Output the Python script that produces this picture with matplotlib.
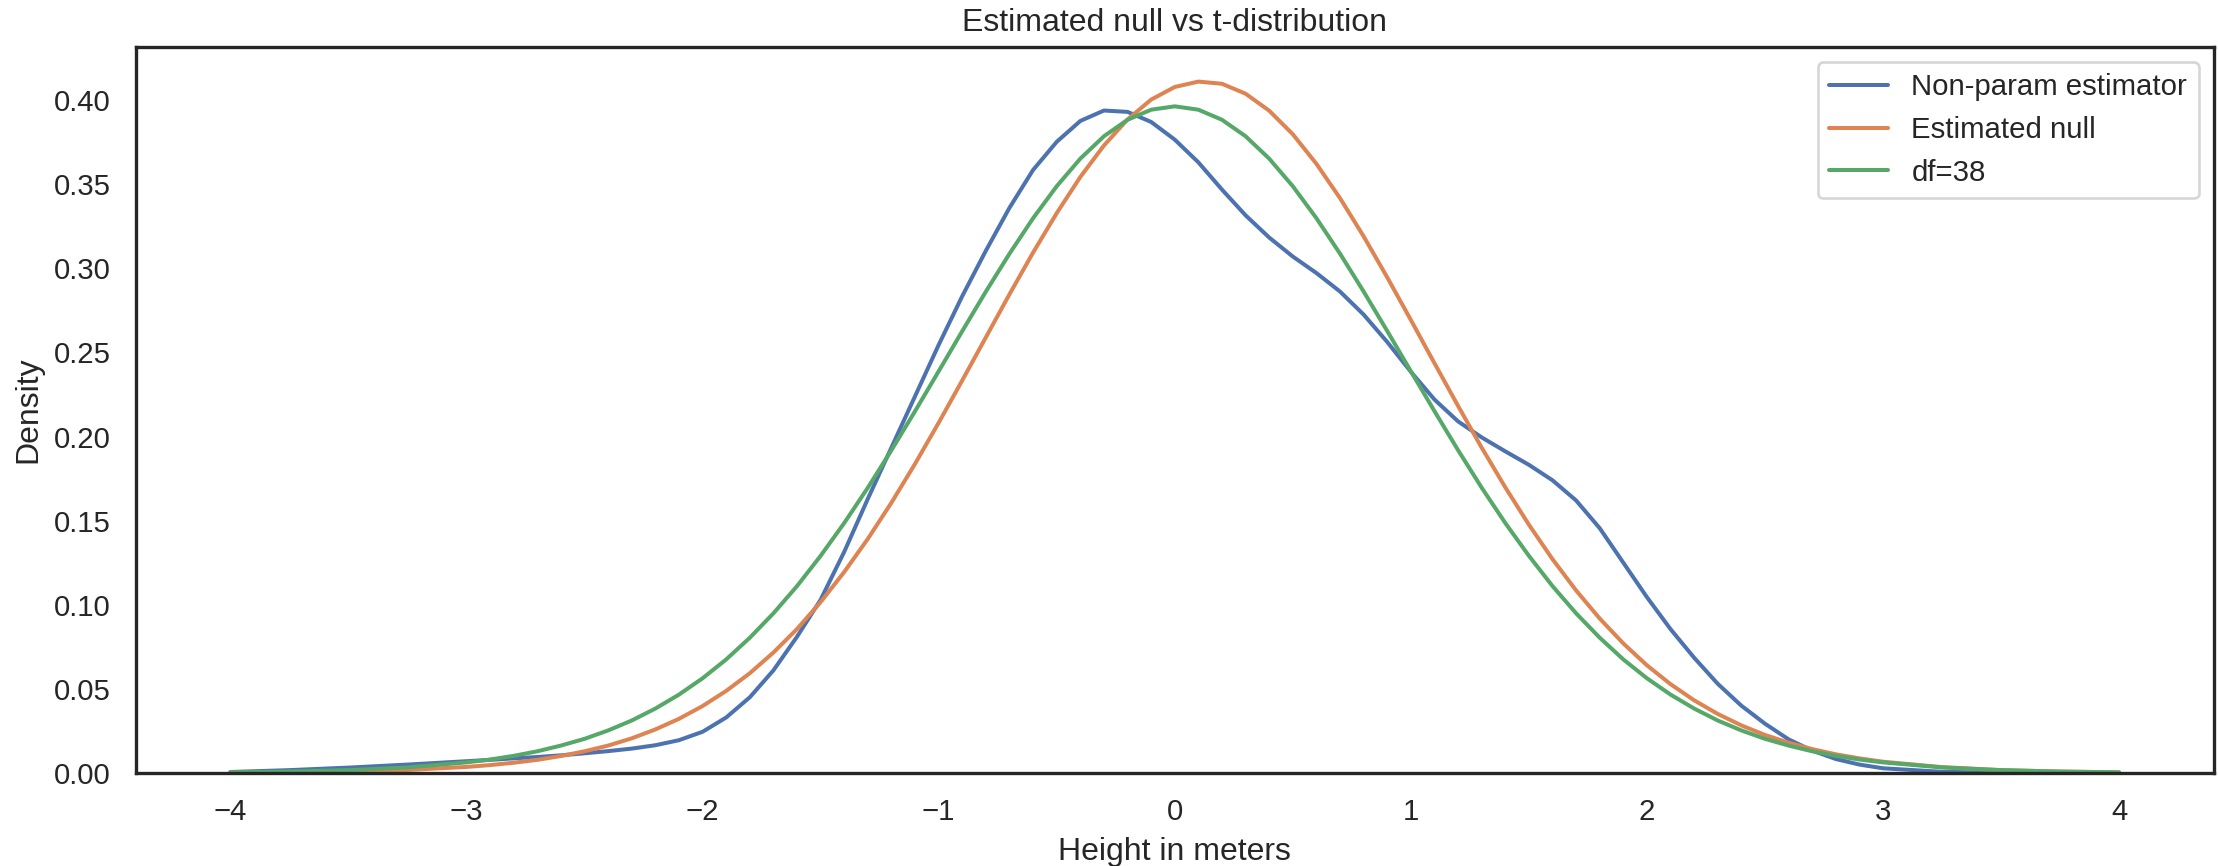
import matplotlib
matplotlib.use("Agg")
import matplotlib.pyplot as plt
import seaborn as sns

# x grid the three curves were read on
x = [-4.0, -3.75, -3.5, -3.25,
     -3.0, -2.9, -2.8, -2.7, -2.6, -2.5, -2.4, -2.3, -2.2, -2.1,
     -2.0, -1.9, -1.8, -1.7, -1.6, -1.5, -1.4, -1.3, -1.2, -1.1,
     -1.0, -0.9, -0.8, -0.7, -0.6, -0.5, -0.4, -0.3, -0.2, -0.1,
     0.0, 0.1, 0.2, 0.3, 0.4, 0.5, 0.6, 0.7, 0.8, 0.9,
     1.0, 1.1, 1.2, 1.3, 1.4, 1.5, 1.6, 1.7, 1.8, 1.9,
     2.0, 2.1, 2.2, 2.3, 2.4, 2.5, 2.6, 2.7, 2.8, 2.9,
     3.0, 3.25, 3.5, 3.75, 4.0]

# non-parametric (KDE) estimate
kde_density = [0.0006, 0.0017, 0.0032, 0.0050,
               0.0070, 0.0078, 0.0087, 0.0095, 0.0105, 0.0117, 0.0130, 0.0145, 0.0165, 0.0195,
               0.0245, 0.0330, 0.0450, 0.0610, 0.0810, 0.1030, 0.1315, 0.1630, 0.1935, 0.2240,
               0.2545, 0.2835, 0.3105, 0.3360, 0.3585, 0.3752, 0.3876, 0.3938, 0.3930, 0.3870,
               0.3765, 0.3630, 0.3468, 0.3315, 0.3183, 0.3070, 0.2972, 0.2862, 0.2725, 0.2562,
               0.2385, 0.2220, 0.2090, 0.1995, 0.1912, 0.1832, 0.1740, 0.1620, 0.1455, 0.1250,
               0.1045, 0.0855, 0.0685, 0.0530, 0.0400, 0.0293, 0.0200, 0.0133, 0.0083, 0.0050,
               0.0028, 0.0007, 0.0002, 0.0001, 0.0000]

# estimated null
null_density = [0.0002, 0.0004, 0.0009, 0.0018,
                0.0036, 0.0047, 0.0061, 0.0078, 0.0101, 0.0129, 0.0163, 0.0206, 0.0259, 0.0322,
                0.0398, 0.0488, 0.0593, 0.0716, 0.0856, 0.1016, 0.1195, 0.1392, 0.1607, 0.1838,
                0.2082, 0.2334, 0.2590, 0.2846, 0.3094, 0.3328, 0.3543, 0.3730, 0.3885, 0.4003,
                0.4078, 0.4110, 0.4097, 0.4038, 0.3937, 0.3797, 0.3621, 0.3417, 0.3190, 0.2946,
                0.2693, 0.2436, 0.2182, 0.1934, 0.1698, 0.1476, 0.1271, 0.1085, 0.0918, 0.0770,
                0.0640, 0.0528, 0.0432, 0.0351, 0.0283, 0.0226, 0.0180, 0.0142, 0.0111, 0.0087,
                0.0067, 0.0035, 0.0017, 0.00085, 0.0004]

# t-distribution, df=38
t_density = [0.0004, 0.00085, 0.0017, 0.0033,
             0.0063, 0.0080, 0.0102, 0.0129, 0.0163, 0.0203, 0.0253, 0.0312, 0.0383, 0.0466,
             0.0563, 0.0675, 0.0804, 0.0949, 0.1111, 0.1291, 0.1486, 0.1696, 0.1919, 0.2151,
             0.2388, 0.2627, 0.2862, 0.3087, 0.3298, 0.3488, 0.3652, 0.3785, 0.3883, 0.3943,
             0.3963, 0.3943, 0.3883, 0.3785, 0.3652, 0.3488, 0.3298, 0.3087, 0.2862, 0.2627,
             0.2388, 0.2151, 0.1919, 0.1696, 0.1486, 0.1291, 0.1111, 0.0949, 0.0804, 0.0675,
             0.0563, 0.0466, 0.0383, 0.0312, 0.0253, 0.0203, 0.0163, 0.0129, 0.0102, 0.0080,
             0.0063, 0.0033, 0.0017, 0.00085, 0.0004]

labels = ["Non-param estimator", "Estimated null", "df=38"]

sns.set_theme(style="white")
plt.rcParams["font.family"] = ["Liberation Sans", "DejaVu Sans"]

fig, ax = plt.subplots(figsize=(2218 / 192, 866 / 192), dpi=192)
fig.subplots_adjust(left=0.0613, right=0.998, top=0.9457, bottom=0.1074)

colors = sns.color_palette("deep")
for ys, lab, c in zip([kde_density, null_density, t_density], labels, colors):
    ax.plot(x, ys, color=c, label=lab, linewidth=1.5)

ax.set_ylim(bottom=0)
ax.set_title("Estimated null vs t-distribution")
ax.set_xlabel("Height in meters")
ax.set_ylabel("Density")
ax.legend(loc="upper right")

fig.savefig("out.png", dpi=192)
